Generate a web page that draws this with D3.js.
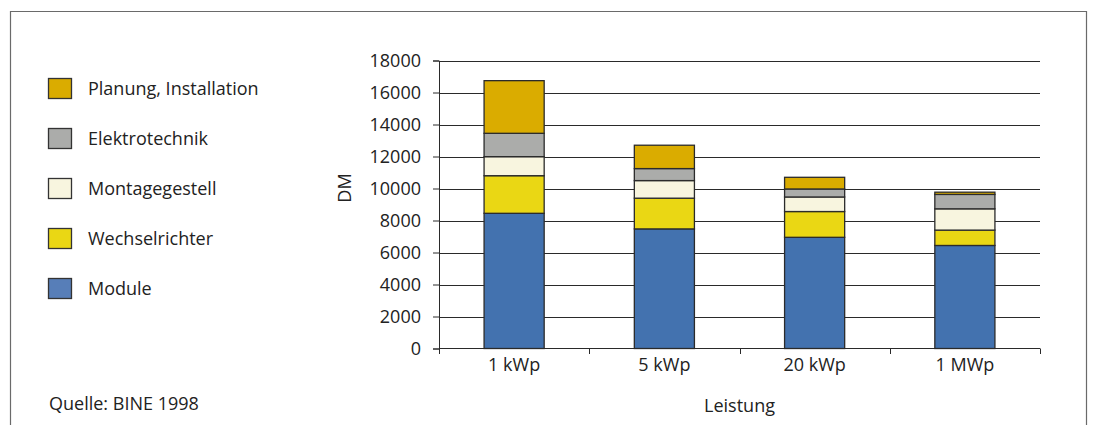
<!DOCTYPE html>
<html>
<head>
<meta charset="utf-8">
<script src="https://cdn.jsdelivr.net/npm/d3@7"></script>
<style>
  html, body { margin: 0; padding: 0; background: #fff; }
  svg { display: block; }
  text { font-family: "Open Sans", "Noto Sans", sans-serif; fill: #222; }
</style>
</head>
<body>
<svg id="chart" width="1094" height="425"></svg>
<script>
// Investitionskosten einer PV-Anlage nach Leistungsklasse (DM pro kWp)
const categories = ["1 kWp", "5 kWp", "20 kWp", "1 MWp"];

// Kostenanteile, von unten nach oben gestapelt
const module          = [8450, 7475, 6950, 6440];
const wechselrichter  = [2350, 1920, 1610,  960];
const montagegestell  = [1190, 1100,  910, 1330];
const elektrotechnik  = [1460,  750,  500,  900];
const planung         = [3290, 1460,  730,  140];

const seriesNames = ["Module", "Wechselrichter", "Montagegestell", "Elektrotechnik", "Planung, Installation"];
const seriesColors = ["#4372AF", "#EAD714", "#F8F5DF", "#ABACAA", "#DAAC00"];
const legendColors = ["#577EB8", "#EAD714", "#F8F5DF", "#ABACAA", "#DAAC00"];

const yTicks = [0, 2000, 4000, 6000, 8000, 10000, 12000, 14000, 16000, 18000];

const FS = 18;
const svg = d3.select("#chart");

// Rahmen (unten offen)
svg.append("path")
  .attr("d", "M10.5,425 V11.5 H1086.5 V425")
  .attr("fill", "none")
  .attr("stroke", "#6a6a6a")
  .attr("stroke-width", 1.2);

const x = d3.scaleBand()
  .domain(categories)
  .range([439, 1040])
  .paddingInner(0.6)
  .paddingOuter(0.3);

const y = d3.scaleLinear()
  .domain([0, 18000])
  .range([348.5, 60.5]);

// Gitterlinien
svg.append("g")
  .selectAll("line")
  .data(yTicks.filter(d => d > 0))
  .join("line")
  .attr("x1", 439).attr("x2", 1040)
  .attr("y1", d => Math.round(y(d)) + 0.5)
  .attr("y2", d => Math.round(y(d)) + 0.5)
  .attr("stroke", "#2a2a2a")
  .attr("stroke-width", 1);

// Gestapelte Balken
const rows = categories.map((c, i) => ({
  cat: c,
  Module: module[i],
  Wechselrichter: wechselrichter[i],
  Montagegestell: montagegestell[i],
  Elektrotechnik: elektrotechnik[i],
  "Planung, Installation": planung[i]
}));
const stacked = d3.stack().keys(seriesNames)(rows);

svg.append("g")
  .selectAll("g")
  .data(stacked)
  .join("g")
  .attr("fill", (d, i) => seriesColors[i])
  .selectAll("rect")
  .data(d => d)
  .join("rect")
  .attr("x", d => x(d.data.cat))
  .attr("width", x.bandwidth())
  .attr("y", d => y(d[1]))
  .attr("height", d => y(d[0]) - y(d[1]))
  .attr("stroke", "#2b2b2b")
  .attr("stroke-width", 1.3);

// y-Achse
const yAxis = svg.append("g")
  .attr("transform", "translate(439,0)")
  .call(d3.axisLeft(y).tickValues(yTicks).tickSize(6).tickPadding(12).tickFormat(d3.format("d")));
yAxis.select(".domain").attr("stroke", "#2a2a2a");
yAxis.selectAll(".tick line").attr("stroke", "#2a2a2a");
yAxis.selectAll("text")
  .attr("font-size", FS)
  .attr("font-family", "\"Open Sans\", sans-serif")
  .attr("fill", "#222");

// x-Achse mit Strichen an den Kategoriegrenzen
const xAxis = svg.append("g")
  .attr("transform", "translate(0,348.5)")
  .call(d3.axisBottom(x).tickSize(0).tickPadding(10));
xAxis.select(".domain").attr("stroke", "#2a2a2a").attr("d", "M439,0H1040");
xAxis.selectAll("text")
  .attr("font-size", FS)
  .attr("font-family", "\"Open Sans\", sans-serif")
  .attr("fill", "#222");
const bounds = categories.map(c => x(c) - x.step() * x.paddingOuter()).concat([1040]);
svg.append("g")
  .selectAll("line")
  .data(bounds)
  .join("line")
  .attr("x1", d => Math.round(d) + 0.5).attr("x2", d => Math.round(d) + 0.5)
  .attr("y1", 348.5).attr("y2", 354)
  .attr("stroke", "#2a2a2a");

// Achsentitel
svg.append("text")
  .attr("transform", "translate(351,188) rotate(-90)")
  .attr("text-anchor", "middle")
  .attr("font-size", FS)
  .text("DM");

svg.append("text")
  .attr("x", 739.5).attr("y", 412)
  .attr("text-anchor", "middle")
  .attr("font-size", FS)
  .text("Leistung");

// Legende (oben: Planung, unten: Module)
const legendOrder = seriesNames.map((n, i) => ({ name: n, color: legendColors[i] })).reverse();
const legendY = d3.scalePoint().domain(legendOrder.map(d => d.name)).range([88.5, 288.5]);
const lg = svg.append("g")
  .selectAll("g")
  .data(legendOrder)
  .join("g")
  .attr("transform", d => `translate(0,${legendY(d.name)})`);
lg.append("rect")
  .attr("x", 48.5).attr("y", -10)
  .attr("width", 23).attr("height", 20)
  .attr("fill", d => d.color)
  .attr("stroke", "#333")
  .attr("stroke-width", 1.3);
lg.append("text")
  .attr("x", 88).attr("y", 6.5)
  .attr("font-size", FS)
  .text(d => d.name);

// Quellenangabe
svg.append("text")
  .attr("x", 49).attr("y", 410)
  .attr("font-size", FS)
  .text("Quelle: BINE 1998");
</script>
</body>
</html>
